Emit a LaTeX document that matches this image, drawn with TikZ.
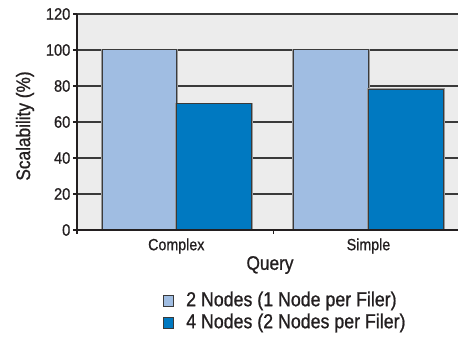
\documentclass[tikz,border=0pt]{standalone}
\usepackage{fontspec}
\setmainfont{Liberation Sans}[FakeStretch=0.88,FakeBold=0.9]
\definecolor{plotbg}{HTML}{ECECEC}
\definecolor{gridc}{HTML}{3A3A3A}
\definecolor{lightbar}{HTML}{A0BDE2}
\definecolor{darkbar}{HTML}{0079C1}
\definecolor{txt}{HTML}{231F20}
\definecolor{halo}{HTML}{9A9A9A}
\begin{document}
\begin{tikzpicture}[x=1pt,y=-1pt,
  gridline/.style={draw=gridc,line width=1.1pt},
  tickline/.style={draw=txt,line width=1.1pt},
  barhalo/.style={draw=halo,line width=2.6pt},
  barbox/.style={draw=gridc,line width=1pt},
  ticklab/.style={anchor=east,text=txt,font=\fontsize{16.6}{16.6}\selectfont,inner sep=0pt},
  catlab/.style={anchor=center,text=txt,font=\fontsize{16.2}{16.2}\selectfont,inner sep=0pt},
  titlelab/.style={text=txt,font=\fontsize{19.6}{19.6}\selectfont,inner sep=0pt},
  leglab/.style={anchor=west,text=txt,font=\fontsize{20.2}{20.2}\selectfont,inner sep=0pt},
  legbox/.style={draw=gridc,line width=0.8pt,minimum size=10.5pt,inner sep=0pt}]
\useasboundingbox (0,0) rectangle (458,347);
% plot background
\fill[plotbg] (77,14) rectangle (458,230);
% grid lines and y ticks
\foreach \v in {20,40,...,120}{
  \draw[gridline] (77,{230-1.8*\v}) -- (458,{230-1.8*\v});
}
\foreach \v in {0,20,...,120}{
  \draw[tickline] (73,{230-1.8*\v}) -- (77,{230-1.8*\v});
  \node[ticklab] (t\v) at (70.5,{230-1.8*\v}) {\v};
}
% bars
\foreach \xa/\xb/\v/\c/\n in {102.3/176.3/100/lightbar/cl, 176.3/251.3/70/darkbar/cd, 293.3/368.7/100/lightbar/sl, 368.7/443.7/78/darkbar/sd}{
  \draw[barhalo] (\xa,230) -- (\xa,{230-1.8*\v}) -- (\xb,{230-1.8*\v}) -- (\xb,230);
  \fill[\c] (\xa,230) rectangle (\xb,{230-1.8*\v});
  \draw[barbox] (\xa,230) -- (\xa,{230-1.8*\v}) -- (\xb,{230-1.8*\v}) -- (\xb,230);
  \coordinate (\n) at ({(\xa+\xb)/2},{230-1.8*\v});
}
% axes
\draw[tickline] (77,14) -- (77,234);
\draw[tickline] (77,230) -- (458,230);
\draw[tickline] (273.3,230) -- (273.3,234);
% category labels
\node[catlab] (complex) at (176.3,246) {Complex};
\node[catlab] (simple) at (368.5,246) {Simple};
\node[titlelab] (query) at (270,265) {Query};
\node[titlelab,rotate=90] (ytitle) at (25,126) {Scalability (\%)};
% legend
\node[legbox,fill=lightbar] (lg1) at (168.5,301) {};
\node[legbox,fill=darkbar] (lg2) at (168.5,323) {};
\node[leglab] (lt1) at (186,301) {2 Nodes (1 Node per Filer)};
\node[leglab] (lt2) at (186,323) {4 Nodes (2 Nodes per Filer)};
\end{tikzpicture}
\end{document}
